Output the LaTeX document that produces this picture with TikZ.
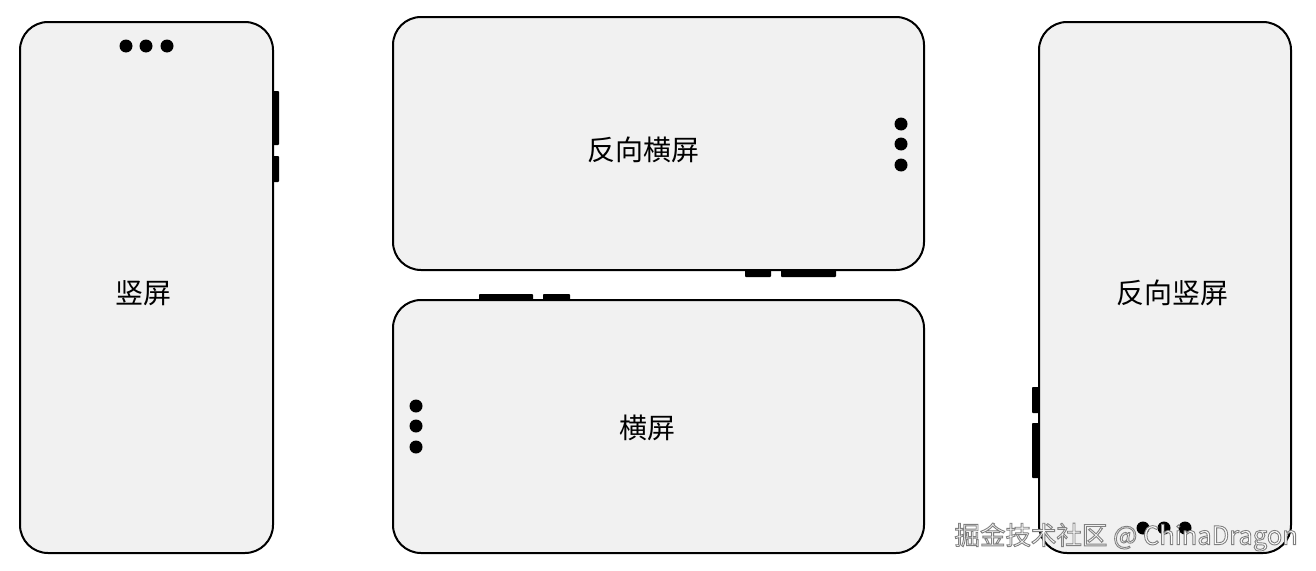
\documentclass[tikz,border=0pt]{standalone}
\usepackage{fontspec}
\newfontfamily\cjk{Noto Sans CJK SC}
\definecolor{screen}{HTML}{F1F1F1}
\begin{document}
\begin{tikzpicture}[x=1pt,y=-1pt,
  phone/.style={draw=black,line width=2pt,fill=screen,rounded corners=28pt},
  btn/.style={fill=black,rounded corners=0.8pt},
  cam/.style={fill=black,circle,inner sep=0pt,minimum size=13pt},
  lbl/.style={font=\cjk\fontsize{28}{32}\selectfont,text=black,inner sep=0pt},
  wmark/.style={font=\cjk\fontsize{25.5}{30}\selectfont,text=white,draw=none,inner sep=0pt}]
\useasboundingbox (0,0) rectangle (1316,570);
\fill[white] (0,0) rectangle (1316,570);
% side buttons (behind phones)
\fill[btn] (270,91) rectangle (279,145);
\fill[btn] (270,156) rectangle (279,182);
\fill[btn] (745,266) rectangle (771,277);
\fill[btn] (781,266) rectangle (836,277);
\fill[btn] (479,294) rectangle (533,304);
\fill[btn] (543,294) rectangle (570,304);
\fill[btn] (1032,387) rectangle (1042,413);
\fill[btn] (1032,423) rectangle (1042,478);
% phones
\draw[phone] (20,22) rectangle (273,553);
\draw[phone] (393,17) rectangle (924,270);
\draw[phone] (393,300) rectangle (924,553);
\draw[phone] (1039,22) rectangle (1291,553);
% cameras
\node[cam] (c1a) at (126,46) {};
\node[cam] (c1b) at (146,46) {};
\node[cam] (c1c) at (167,46) {};
\node[cam] (c2a) at (901,124) {};
\node[cam] (c2b) at (901,144) {};
\node[cam] (c2c) at (901,165) {};
\node[cam] (c3a) at (416,406) {};
\node[cam] (c3b) at (416,426) {};
\node[cam] (c3c) at (416,447) {};
\node[cam] (c4a) at (1143,528) {};
\node[cam] (c4b) at (1164,528) {};
\node[cam] (c4c) at (1185,528) {};
% labels
\node[lbl] (l1) at (143,293) {竖屏};
\node[lbl] (l2) at (643,150) {反向横屏};
\node[lbl] (l3) at (647,428) {横屏};
\node[lbl] (l4) at (1172,293) {反向竖屏};
% watermark
\node[wmark,anchor=east] (wm) at (1298,537) {\special{pdf:literal 2 Tr 0.9 w 0.5 0.5 0.5 RG}掘金技术社区 @ ChinaDragon\special{pdf:literal 0 Tr}};
\end{tikzpicture}
\end{document}
